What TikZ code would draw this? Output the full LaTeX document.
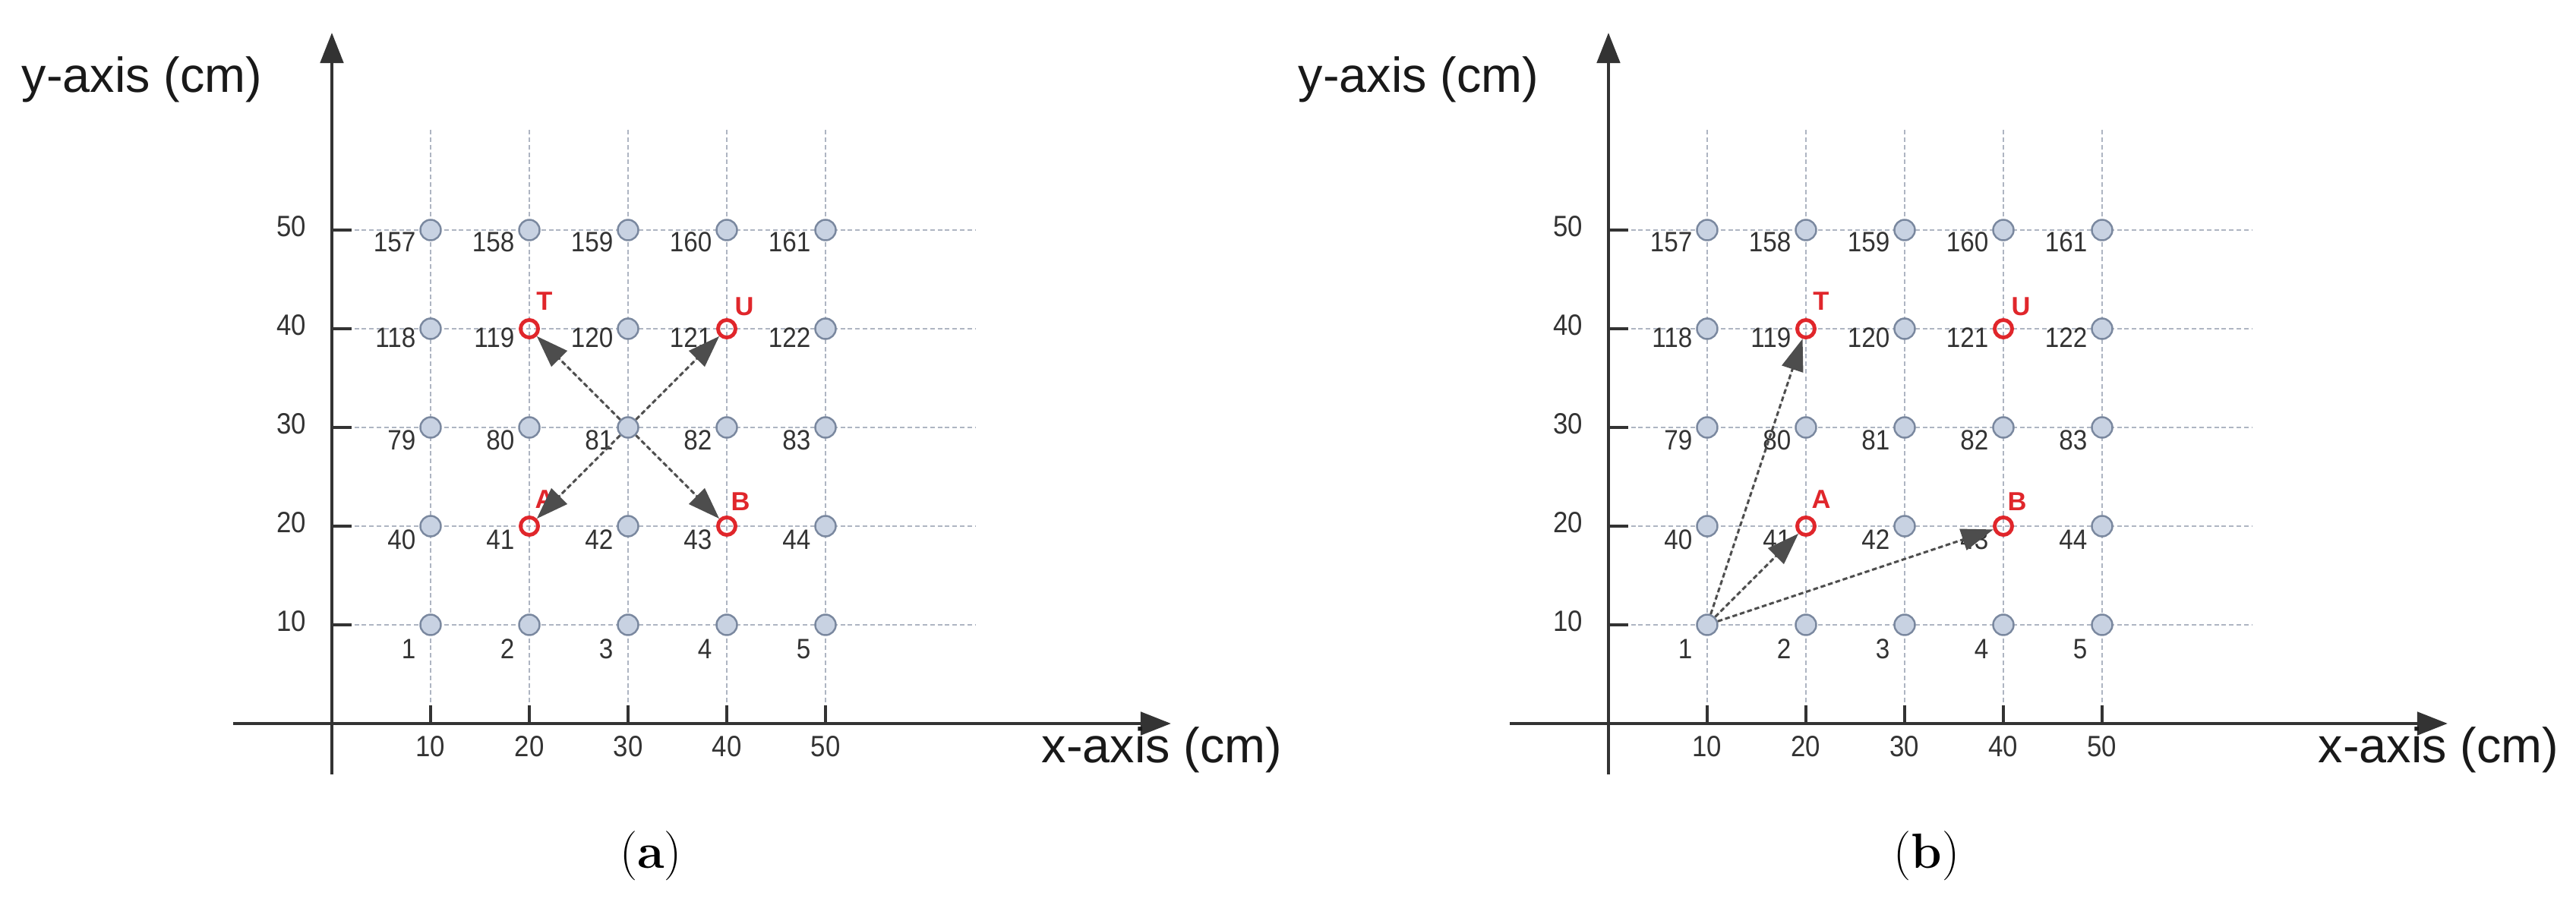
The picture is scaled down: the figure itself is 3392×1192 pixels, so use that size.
\documentclass[tikz,border=0pt]{standalone}
\usepackage{fontspec}
\newfontfamily\sansf{Liberation Sans}
\newfontfamily\narrowf[FakeStretch=0.9]{Liberation Sans}
\usetikzlibrary{arrows.meta}
\definecolor{gridc}{HTML}{AEB5C2}
\definecolor{axc}{HTML}{333333}
\definecolor{dotf}{HTML}{C8D2E2}
\definecolor{dotb}{HTML}{7A889F}
\definecolor{redc}{HTML}{E0262B}
\definecolor{txtc}{HTML}{333333}
\definecolor{arrc}{HTML}{4D4D4D}
\tikzset{
  gridline/.style={draw=gridc, line width=0.7pt, dash pattern=on 1.7pt off 1.1pt},
  axisline/.style={draw=axc, line width=1.4pt, -{Triangle[length=0.4cm,width=0.3cm]}},
  tickline/.style={draw=axc, line width=1.2pt},
  gdot/.style={circle, draw=dotb, fill=dotf, line width=0.7pt, minimum size=0.27cm, inner sep=0pt},
  rdot/.style={circle, draw=redc, line width=1.4pt, minimum size=0.23cm, inner sep=0pt},
  numlab/.style={font=\narrowf\fontsize{10.5}{12}\selectfont, text=txtc, anchor=east, inner sep=0pt},
  ticklab/.style={font=\narrowf\fontsize{11}{13}\selectfont, text=txtc, inner sep=0pt},
  redlab/.style={font=\sansf\bfseries\fontsize{9.8}{11}\selectfont, text=redc, inner sep=0pt},
  axislab/.style={font=\sansf\fontsize{18.4}{22}\selectfont, text=black!90, inner sep=0pt, anchor=base},
  arrline/.style={draw=arrc, line width=0.85pt, dash pattern=on 1.8pt off 1.1pt, -{Triangle[length=0.42cm,width=0.29cm]}, fill=arrc},
  captext/.style={font=\fontsize{18.5}{22}\selectfont, inner sep=0pt}
}
\newcommand\drawpanel[1]{%
  \foreach \c in {1,...,5}{\draw[gridline] (437+130*\c,171) -- (437+130*\c,953);}
  \foreach \r in {1,...,5}{\draw[gridline] (437,953-130*\r) -- (1285,953-130*\r);}
  \coordinate (#1xs) at (307,953);
  \coordinate (#1xe) at (1542,953);
  \coordinate (#1ys) at (437,1020);
  \coordinate (#1ye) at (437,43);
  \draw[axisline] (#1xs) -- (#1xe);
  \draw[axisline] (#1ys) -- (#1ye);
  \foreach \c in {1,...,5}{
    \draw[tickline] (437+130*\c,953) -- (437+130*\c,929);
    \pgfmathtruncatemacro\vv{10*\c}
    \node[ticklab] (#1xt\c) at (437+130*\c,983) {\vv};
  }
  \foreach \r in {1,...,5}{
    \draw[tickline] (437,953-130*\r) -- (463,953-130*\r);
    \pgfmathtruncatemacro\vv{10*\r}
    \node[ticklab,anchor=east] (#1yt\r) at (404,948-130*\r) {\vv};
  }
  \foreach \r/\dy in {1/32,2/18,3/17,4/12,5/16}{
    \foreach \c in {1,...,5}{
      \pgfmathtruncatemacro\nn{39*(\r-1)+\c}
      \pgfmathtruncatemacro\isred{(\nn==119)||(\nn==121)||(\nn==41)||(\nn==43)}
      \node[numlab] (#1l\nn) at (437+130*\c-19,953-130*\r+\dy) {\nn};
      \ifnum\isred=1
        \node[rdot] (#1\nn) at (437+130*\c,953-130*\r) {};
      \else
        \node[gdot] (#1\nn) at (437+130*\c,953-130*\r) {};
      \fi
    }
  }
  \node[redlab] (#1T) at (717,397) {T};
  \node[redlab] (#1U) at (980,404) {U};
  \node[redlab] (#1A) at (717,658) {A};
  \node[redlab] (#1B) at (975,661) {B};
  \node[axislab] (#1ylab) at (187,122) {y-axis (cm)};
  \node[axislab] (#1xlab) at (1530,1005) {x-axis (cm)};
}
\begin{document}
\begin{tikzpicture}[x=0.01cm,y=-0.01cm]
\useasboundingbox (0,0) rectangle (3392,1192);
\fill[white] (0,0) rectangle (3392,1192);
\drawpanel{a}
\begin{scope}[xshift=16.8cm]
\drawpanel{b}
\end{scope}
% arrows panel (a)
\draw[arrline] (a81) -- (a119);
\draw[arrline] (a81) -- (a121);
\draw[arrline] (a81) -- (a41);
\draw[arrline] (a81) -- (a43);
% arrows panel (b)
\draw[arrline] (b1) -- (b119);
\draw[arrline] (b1) -- (b41);
\draw[arrline] (b1) -- (b43);
% captions
\node[captext] (capa) at (857,1127) {(\textbf{a})};
\node[captext] (capb) at (2537,1127) {(\textbf{b})};
\end{tikzpicture}
\end{document}
